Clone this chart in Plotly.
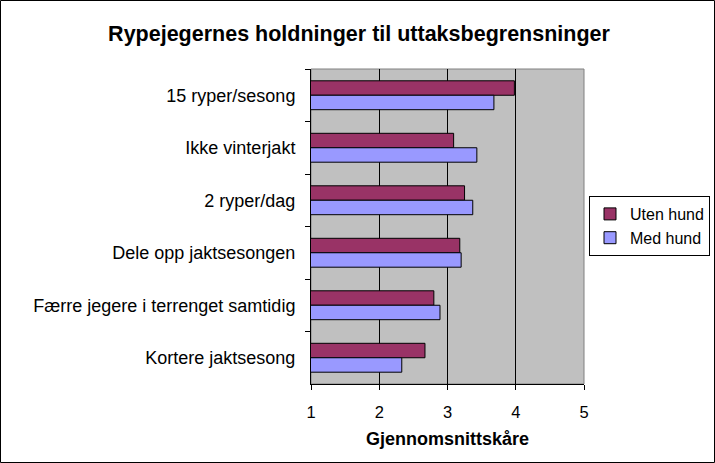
import plotly.graph_objects as go

categories = [
    "15 ryper/sesong",
    "Ikke vinterjakt",
    "2 ryper/dag",
    "Dele opp jaktsesongen",
    "Færre jegere i terrenget samtidig",
    "Kortere jaktsesong",
]
uten_hund = [3.98, 3.09, 3.25, 3.18, 2.80, 2.67]
med_hund = [3.68, 3.43, 3.37, 3.20, 2.89, 2.33]
x_ticks = [1, 2, 3, 4, 5]

W, H = 715, 463
ML, MR, MT, MB = 311, 131, 69, 79
PW = W - ML - MR
PH = H - MT - MB

font_family = "Arial, Liberation Sans, sans-serif"

fig = go.Figure()
fig.add_trace(go.Bar(
    y=categories, x=uten_hund, orientation="h", name="Uten hund",
    marker=dict(color="#993366", line=dict(color="black", width=1)),
))
fig.add_trace(go.Bar(
    y=categories, x=med_hund, orientation="h", name="Med hund",
    marker=dict(color="#9999FF", line=dict(color="black", width=1)),
))

fig.update_layout(
    width=W, height=H,
    autosize=False,
    margin=dict(l=ML, r=MR, t=MT, b=MB, pad=0, autoexpand=False),
    paper_bgcolor="white",
    plot_bgcolor="#C0C0C0",
    barmode="group",
    bargap=0.45,
    bargroupgap=0,
    font=dict(family=font_family, size=17, color="black"),
    title=dict(
        text="<b>Rypejegernes holdninger til uttaksbegrensninger</b>",
        font=dict(size=21.5, family=font_family, color="black"),
        x=359 / W, xanchor="center", xref="container",
        y=1 - 33 / H, yanchor="middle", yref="container",
    ),
    legend=dict(
        xref="container", yref="container",
        x=589 / W, xanchor="left",
        y=1 - 226 / H, yanchor="middle",
        bgcolor="white", bordercolor="black", borderwidth=1,
        font=dict(size=16, family=font_family),
        traceorder="normal",
        itemwidth=30,
        tracegroupgap=0,
    ),
    showlegend=True,
)

fig.update_xaxes(
    range=[1, 5],
    tickvals=x_ticks,
    ticktext=[str(v) for v in x_ticks],
    showgrid=True, gridcolor="black", gridwidth=1,
    zeroline=False,
    showline=True, linecolor="black", linewidth=1,
    ticks="outside", ticklen=5, tickcolor="black",
    tickfont=dict(size=16.5),
    ticklabelstandoff=8,
    title=dict(text="<b>Gjennomsnittskåre</b>", font=dict(size=18), standoff=12),
    automargin=False,
)
fig.update_yaxes(
    autorange="reversed",
    showgrid=False,
    showline=True, linecolor="black", linewidth=1,
    ticks="outside", ticklen=5, tickcolor="black",
    tickson="boundaries",
    tickfont=dict(size=18),
    ticklabelstandoff=11,
    automargin=False,
)

# gray plot-area border (top/right)
fig.add_shape(type="rect", xref="paper", yref="paper", x0=0, x1=1, y0=0, y1=1,
              line=dict(color="#808080", width=1), layer="below")
# outer chart border
fig.add_shape(type="rect", xref="paper", yref="paper",
              x0=(0.5 - ML) / PW, x1=(W - 0.5 - ML) / PW,
              y0=(MT + PH - (H - 0.5)) / PH, y1=(MT + PH - 0.5) / PH,
              line=dict(color="black", width=1))

fig.write_html(
    "out.html",
    config={"responsive": False, "displayModeBar": False},
    post_script="document.body.style.margin='0';document.body.style.overflow='hidden';",
)
